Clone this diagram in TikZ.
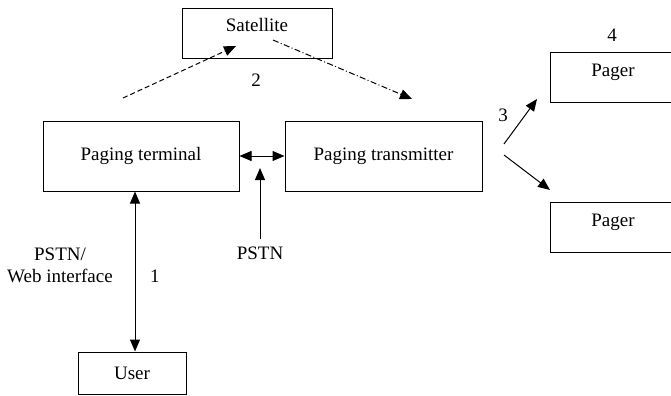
\documentclass[tikz,border=0pt]{standalone}
\usepackage{fontspec}
\setmainfont{Liberation Serif}
\usetikzlibrary{arrows.meta}

\begin{document}
\begin{tikzpicture}[x=0.5pt, y=-0.5pt, line width=0.5pt,
    font=\fontsize{9.5}{11}\selectfont,
    >={Triangle[length=6pt,width=5pt]},
    box/.style={draw, inner sep=0pt},
    topbox/.style={box, text height=7pt, text depth=8pt}]
  \useasboundingbox (0,0) rectangle (671,396);
  % boxes
  \node[topbox, minimum width=75pt, minimum height=25pt] (sat) at (257,33) {Satellite};
  \node[box, minimum width=98pt, minimum height=35pt] (term) at (141,156) {Paging terminal};
  \node[box, minimum width=98.5pt, minimum height=35pt] (trans) at (383.5,156) {Paging transmitter};
  \node[topbox, minimum width=63pt, minimum height=25pt] (pagerA) at (613,77) {Pager};
  \node[topbox, minimum width=63pt, minimum height=25pt] (pagerB) at (613,227) {Pager};
  \node[box, minimum width=54pt, minimum height=21pt] (user) at (132,373) {User};
  % labels
  \node (pstn) at (260,253) {PSTN};
  \node[align=center] (web) at (60,265) {PSTN/\\Web interface};
  \node (one) at (155,276) {1};
  \node (two) at (256,80) {2};
  \node (three) at (503,115) {3};
  \node (four) at (612,35) {4};
  % free ends
  \coordinate (upA) at (123,98);
  \coordinate (upB) at (236,46);
  \coordinate (downA) at (273,40);
  \coordinate (downB) at (412,99);
  \coordinate (pstnTip) at (260,168);
  \coordinate (outA) at (504,144);
  \coordinate (outB) at (504,155);
  \coordinate (inA) at (537,99);
  \coordinate (inB) at (550,190);
  \coordinate (userLine) at (135,0);
  % connectors
  \draw[->, dash pattern=on 2.5pt off 1.5pt] (upA) -- (upB);
  \draw[->, dash pattern=on 3pt off 1.2pt on 0.5pt off 1.2pt] (downA) -- (downB);
  \draw[<->] (term) -- (trans);
  \draw[->] (pstn) -- (pstnTip);
  \draw[<->] (term.south -| userLine) -- (user.north -| userLine);
  \draw[->] (outA) -- (inA);
  \draw[->] (outB) -- (inB);
\end{tikzpicture}
\end{document}
